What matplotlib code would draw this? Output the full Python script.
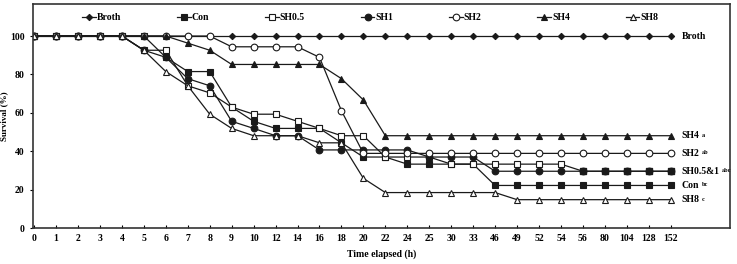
import matplotlib
matplotlib.use("Agg")
import matplotlib.pyplot as plt
import numpy as np

# ---------------------------------------------------------------- data
hours = ["0", "1", "2", "3", "4", "5", "6", "7", "8", "9", "10", "12", "14", "16",
         "18", "20", "22", "24", "25", "30", "33", "46", "49", "52", "54", "56",
         "80", "104", "128", "152"]

broth = [100] * 30
con = [100, 100, 100, 100, 100, 100, 88.9, 81.5, 81.5, 63.0, 55.6, 51.9, 51.9, 51.9,
       44.4, 37.0, 37.0, 33.3, 33.3, 33.3, 33.3, 22.2, 22.2, 22.2, 22.2, 22.2,
       22.2, 22.2, 22.2, 22.2]
sh05 = [100, 100, 100, 100, 100, 92.6, 92.6, 74.1, 70.4, 63.0, 59.3, 59.3, 55.6, 51.9,
        48.1, 48.1, 37.0, 37.0, 37.0, 33.3, 33.3, 33.3, 33.3, 33.3, 33.3, 29.6,
        29.6, 29.6, 29.6, 29.6]
sh1 = [100, 100, 100, 100, 100, 92.6, 88.9, 77.8, 74.1, 55.6, 51.9, 48.1, 48.1, 40.7,
       40.7, 40.7, 40.7, 40.7, 37.0, 37.0, 37.0, 29.6, 29.6, 29.6, 29.6, 29.6,
       29.6, 29.6, 29.6, 29.6]
sh2 = [100, 100, 100, 100, 100, 100, 100, 100, 100, 94.4, 94.4, 94.4, 94.4, 88.9,
       61.1, 38.9, 38.9, 38.9, 38.9, 38.9, 38.9, 38.9, 38.9, 38.9, 38.9, 38.9,
       38.9, 38.9, 38.9, 38.9]
sh4 = [100, 100, 100, 100, 100, 100, 100, 96.3, 92.6, 85.2, 85.2, 85.2, 85.2, 85.2,
       77.8, 66.7, 48.1, 48.1, 48.1, 48.1, 48.1, 48.1, 48.1, 48.1, 48.1, 48.1,
       48.1, 48.1, 48.1, 48.1]
sh8 = [100, 100, 100, 100, 100, 92.6, 81.5, 74.1, 59.3, 51.9, 48.1, 48.1, 48.1, 44.4,
       44.4, 25.9, 18.5, 18.5, 18.5, 18.5, 18.5, 18.5, 14.8, 14.8, 14.8, 14.8,
       14.8, 14.8, 14.8, 14.8]

end_labels = [("Broth", "", broth), ("SH4", "a", sh4), ("SH2", "ab", sh2),
              ("SH0.5&1", "abc", sh1), ("Con", "bc", con), ("SH8", "c", sh8)]

# ---------------------------------------------------------------- style
plt.rcParams["font.family"] = "Liberation Serif"
plt.rcParams["font.weight"] = "bold"
INK = "#1a1a1a"

fig = plt.figure(figsize=(7.37, 2.64), dpi=100)
ax = fig.add_axes([0.0448, 0.136, 0.9457, 0.849])

x = np.arange(len(hours))
kw = dict(color=INK, lw=0.9, mec=INK, mew=0.8)
ax.plot(x, broth, marker="D", ms=3.2, mfc=INK, label="Broth", **kw)
ax.plot(x, con, marker="s", ms=4.8, mfc=INK, label="Con", **kw)
ax.plot(x, sh05, marker="s", ms=4.8, mfc="white", label="SH0.5",
        markevery=slice(0, 25), **kw)
ax.plot(x, sh1, marker="o", ms=4.8, mfc=INK, label="SH1", **kw)
# from 56 h SH0.5 and SH1 coincide -> shown as filled squares
ax.plot(x[25:], np.array(sh05)[25:], ls="none", marker="s", ms=4.8, mfc=INK,
        mec=INK, zorder=5)
ax.plot(x, sh2, marker="o", ms=4.8, mfc="white", label="SH2", **kw)
ax.plot(x, sh4, marker="^", ms=4.8, mfc=INK, label="SH4", **kw)
ax.plot(x, sh8, marker="^", ms=4.8, mfc="white", label="SH8", **kw)

for name, sup, vals in end_labels:
    t = ax.annotate(name, (x[-1], vals[-1]), xytext=(8, 0), textcoords="offset points",
                    va="center", ha="left", fontsize=7, fontweight="bold")
    if sup:
        ax.annotate(sup, xy=(1, 1), xycoords=t, xytext=(1.5, -1),
                    textcoords="offset points", va="top", ha="left",
                    fontsize=4.5, fontweight="bold")

ax.set_xlim(-0.05, 31.7)
ax.set_ylim(0, 116.7)
ax.set_xticks(x)
ax.set_xticklabels(hours)
ax.set_yticks([0, 20, 40, 60, 80, 100])
ax.tick_params(axis="x", direction="in", length=2.5, labelsize=7, pad=4)
ax.tick_params(axis="y", direction="out", length=2.5, labelsize=7)
for s in ax.spines.values():
    s.set_linewidth(1.2)
    s.set_color("#333333")

ax.set_xlabel("Time elapsed (h)", fontsize=7, fontweight="bold", labelpad=5)
ax.set_ylabel("Survival (%)", fontsize=6.5, fontweight="bold", labelpad=1)

ax.legend(ncol=7, loc="center", bbox_to_anchor=(0.484, 0.94), frameon=False,
          fontsize=7, handlelength=1.4, handletextpad=0.1, columnspacing=5.75,
          borderaxespad=0)

fig.savefig("out.png", dpi=100)
